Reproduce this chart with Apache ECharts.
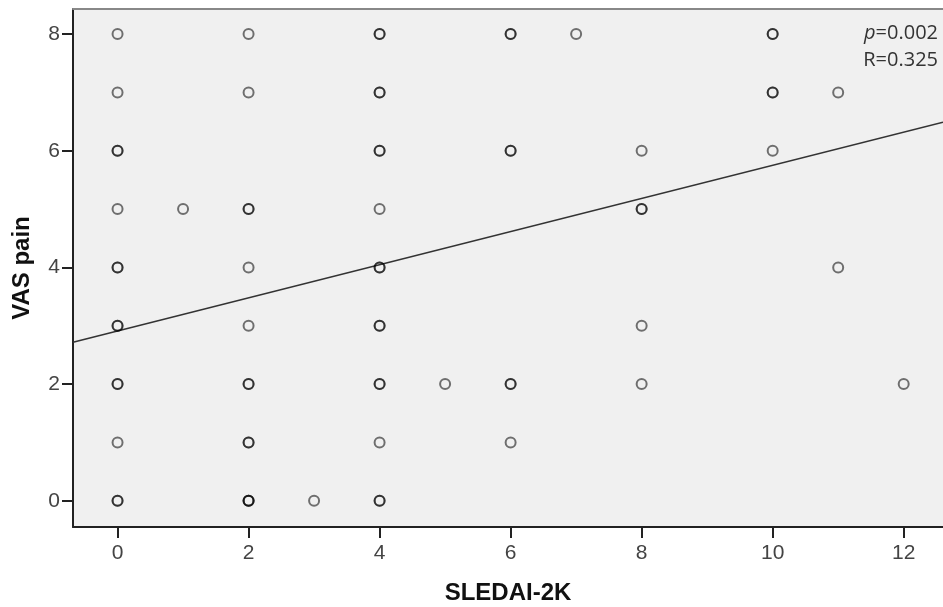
<!DOCTYPE html>
<html>
<head>
<meta charset="utf-8">
<script src="https://cdn.jsdelivr.net/npm/echarts@6/dist/echarts.min.js"></script>
<style>
html, body { margin: 0; padding: 0; background: #fff; }
#chart { width: 943px; height: 607px; }
</style>
</head>
<body>
<div id="chart"></div>
<script>
// SLEDAI-2K score per patient (repeats = overlapping points)
var sledai = [
	0, 0, 0, 0, 0, 0, 0, 0, 0, 0, 0, 0, 0, 0,
	1,
	2, 2, 2, 2, 2, 2, 2, 2, 2, 2, 2, 2, 2,
	3,
	4, 4, 4, 4, 4, 4, 4, 4, 4, 4, 4, 4, 4, 4, 4, 4,
	5,
	6, 6, 6, 6, 6, 6, 6,
	7,
	8, 8, 8, 8, 8,
	10, 10, 10, 10, 10,
	11, 11,
	12
];
// VAS pain per patient, same order
var vasPain = [
	8, 7, 6, 6, 5, 4, 4, 3, 3, 2, 2, 1, 0, 0,
	5,
	8, 7, 5, 5, 4, 3, 2, 2, 1, 1, 0, 0, 0,
	0,
	8, 8, 7, 7, 6, 6, 5, 4, 4, 3, 3, 2, 2, 1, 0, 0,
	2,
	8, 8, 6, 6, 2, 2, 1,
	8,
	6, 5, 5, 3, 2,
	8, 8, 7, 7, 6,
	7, 4,
	2
];
var xTicks = [0, 2, 4, 6, 8, 10, 12];
var yTicks = [0, 2, 4, 6, 8];
// linear fit shown on the plot
var fitIntercept = 2.91;
var fitSlope = 0.284;
var xMin = -0.68, xMax = 12.6;
var yMin = -0.45, yMax = 8.43;

var points = [];
for (var i = 0; i < sledai.length; i++) {
	points.push([sledai[i], vasPain[i]]);
}
var fitLine = [
	[xMin, fitIntercept + fitSlope * xMin],
	[xMax, fitIntercept + fitSlope * xMax]
];

var myChart = echarts.init(document.getElementById('chart'));
var option = {
	backgroundColor: '#ffffff',
	animation: false,
	grid: {
		left: 73,
		top: 9,
		right: 0,
		bottom: 80,
		outerBoundsMode: 'none',
		containLabel: false,
		show: true,
		backgroundColor: '#f0f0f0',
		borderWidth: 0
	},
	xAxis: [{
		type: 'value',
		min: xMin,
		max: xMax,
		name: 'SLEDAI-2K',
		nameLocation: 'middle',
		nameGap: 54,
		nameTextStyle: { fontFamily: 'Liberation Sans', fontWeight: 'bold', fontSize: 24, color: '#111' },
		axisLine: { show: true, onZero: false, lineStyle: { color: '#222', width: 2 } },
		axisTick: { show: true, length: 11, customValues: xTicks, lineStyle: { color: '#222', width: 2 } },
		axisLabel: { customValues: xTicks, margin: 16, fontFamily: 'Liberation Sans', fontSize: 21, color: '#444' },
		splitLine: { show: false }
	}, {
		type: 'value',
		position: 'top',
		min: xMin,
		max: xMax,
		axisLine: { show: true, onZero: false, lineStyle: { color: '#888', width: 2 } },
		axisTick: { show: false },
		axisLabel: { show: false },
		splitLine: { show: false }
	}],
	yAxis: {
		type: 'value',
		min: yMin,
		max: yMax,
		name: 'VAS pain',
		nameLocation: 'middle',
		nameGap: 39,
		nameTextStyle: { fontFamily: 'Liberation Sans', fontWeight: 'bold', fontSize: 24, color: '#111' },
		axisLine: { show: true, onZero: false, lineStyle: { color: '#222', width: 2 } },
		axisTick: { show: true, length: 11, customValues: yTicks, lineStyle: { color: '#222', width: 2 } },
		axisLabel: { customValues: yTicks, margin: 13, fontFamily: 'Liberation Sans', fontSize: 21, color: '#444' },
		splitLine: { show: false }
	},
	series: [{
		name: 'patients',
		type: 'scatter',
		data: points,
		symbol: 'circle',
		symbolSize: 10,
		itemStyle: {
			color: 'rgba(0,0,0,0)',
			borderColor: 'rgba(0,0,0,0.68)',
			borderWidth: 2
		},
		z: 3
	}, {
		name: 'fit',
		type: 'line',
		data: fitLine,
		symbol: 'none',
		lineStyle: { color: '#333', width: 1.5 },
		z: 2
	}],
	graphic: [{
		type: 'text',
		right: 5,
		top: 20,
		style: {
			rich: {
				it: { fontStyle: 'italic', fontFamily: 'Open Sans', fontSize: 20, fill: '#333' },
				n: { fontFamily: 'Open Sans', fontSize: 20, fill: '#333' }
			},
			text: '{it|p}{n|=0.002}\n{n|R=0.325}',
			lineHeight: 27,
			textAlign: 'right',
			fill: '#333'
		}
	}]
};
myChart.setOption(option);
window.onresize = function() {
	myChart.resize();
};
</script>
</body>
</html>
